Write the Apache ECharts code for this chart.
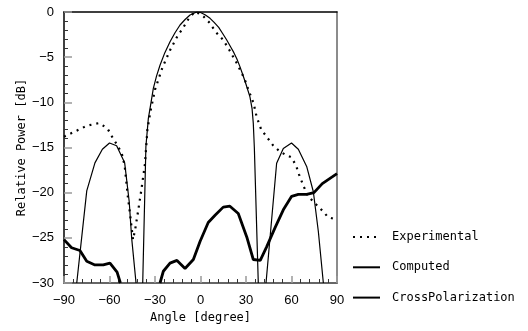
<!DOCTYPE html>
<html>
<head>
<meta charset="utf-8">
<script src="https://cdn.jsdelivr.net/npm/echarts@6/dist/echarts.min.js"></script>
<style>html,body{margin:0;padding:0;background:#fff}#c{width:528px;height:331px}</style>
</head>
<body>
<div id="c"></div>
<script>
// ---- data ----
const xTickValues = [-90, -60, -30, 0, 30, 60, 90];
const yTickValues = [-30, -25, -20, -15, -10, -5, 0];

const expAngle = [-90, -85, -80, -75, -70, -67, -64, -61, -58, -55, -52, -50, -48, -46.5, -44.5, -43, -41, -39, -36.6, -35, -33, -30, -25, -20, -15, -12, -8, -4, -1, 2, 6, 10, 15, 19, 24, 29, 32, 35, 37, 40, 44, 48, 52, 56, 60, 63, 65, 68, 71, 75, 78, 81, 84, 90];
const expPower = [-13.8, -13.4, -13.0, -12.6, -12.4, -12.3, -12.6, -13.0, -13.9, -14.7, -15.6, -17.0, -20.3, -22.3, -25.2, -24.0, -21.9, -19.7, -16.8, -13.0, -11.0, -8.6, -6.1, -4.2, -2.6, -1.9, -0.8, 0.0, -0.15, -0.5, -1.2, -2.2, -3.1, -4.2, -5.7, -7.4, -8.8, -10.1, -11.6, -13.0, -13.9, -14.8, -15.4, -15.8, -16.1, -17.0, -18.0, -19.3, -20.4, -21.1, -21.6, -22.1, -22.7, -23.0];

const compAngle1 = [-81.6, -75, -69.6, -64.7, -60, -55.3, -50, -47, -45.4, -42.5];
const compPower1 = [-30, -19.8, -16.7, -15.2, -14.5, -14.8, -16.7, -21.0, -25.0, -30];
const compAngle2 = [-38.1, -36, -34.4, -32.5, -31.1, -29, -26.7, -23.5, -20.1, -16.8, -13.5, -10, -6.9, -2.5, 0, 3, 6.3, 9, 12, 14.5, 17.3, 20, 22, 24, 26, 28, 30, 32.6, 34, 34.8, 35.5, 38.1];
const compPower2 = [-30, -14.9, -11.8, -9.9, -8.45, -7.1, -5.9, -4.5, -3.3, -2.3, -1.44, -0.8, -0.33, 0, -0.05, -0.3, -0.7, -1.15, -1.7, -2.35, -3.1, -3.9, -4.5, -5.2, -6.05, -7.0, -8.0, -9.4, -10.7, -12.3, -15.0, -30];
const compAngle3 = [43.2, 50.2, 54.6, 60, 64.5, 70, 74.4, 77.7, 81];
const compPower3 = [-30, -16.75, -15.1, -14.5, -15.2, -17.1, -19.9, -24.3, -30];

const crossAngle1 = [-90, -85, -79.5, -75, -69.6, -64.1, -59.7, -55, -52.8];
const crossPower1 = [-25.2, -26.1, -26.4, -27.6, -28.0, -28.0, -27.8, -28.8, -30];
const crossAngle2 = [-26.7, -24.5, -20.1, -15.5, -10.2, -4.7, -0.3, 5.1, 9.6, 15, 19.4, 24.9, 30.5, 34.8, 39.4, 43.6, 49.1, 54.6, 60.1, 64.5, 70, 74.8, 80.3, 90];
const crossPower2 = [-30, -28.7, -27.8, -27.5, -28.4, -27.4, -25.4, -23.3, -22.5, -21.6, -21.5, -22.3, -24.9, -27.4, -27.5, -26.0, -23.9, -21.9, -20.4, -20.2, -20.2, -20.0, -19.0, -17.9];

const zip = (a, b) => a.map((v, i) => [v, b[i]]);
const minus = v => String(v).replace('-', '\u2212');

const tickFont = { fontFamily: 'Liberation Sans, Arial, sans-serif', fontSize: 13, color: '#000' };
const monoFont = 'DejaVu Sans Mono, monospace';

const thin = { color: '#000', width: 1.2, type: 'solid' };
const thick = { color: '#000', width: 2.8, type: 'solid' };
const dotted = { color: '#000', width: 2.2, type: [2, 5], cap: 'butt' };

function lineSeries(name, data, style) {
  return { name, type: 'line', data, symbol: 'none', showSymbol: false, smooth: false,
           lineStyle: style, itemStyle: { color: '#000' }, clip: true, animation: false };
}

const chart = echarts.init(document.getElementById('c'), null, { renderer: 'canvas' });
chart.setOption({
  animation: false,
  backgroundColor: '#fff',
  grid: { left: 64, top: 12, width: 273, height: 271, containLabel: false },
  legend: {
    orient: 'vertical', left: 352, top: 231, padding: 0, itemWidth: 27, itemHeight: 14, itemGap: 18.3,
    itemStyle: { opacity: 0 },
    textStyle: { fontFamily: monoFont, fontSize: 12, color: '#000', padding: [0, 0, 0, 7] },
    data: ['Experimental', 'Computed', 'CrossPolarization']
  },
  xAxis: [{
    type: 'value', min: -90, max: 90, interval: 30,
    name: 'Angle [degree]', nameLocation: 'middle', nameGap: 28,
    nameTextStyle: { fontFamily: monoFont, fontSize: 12, color: '#000' },
    axisLine: { show: true, onZero: false, lineStyle: { color: '#666', width: 2 } },
    axisTick: { show: true, inside: true, length: 7, lineStyle: { color: '#999', width: 1.5 } },
    minorTick: { show: true, splitNumber: 5, length: 4, lineStyle: { color: '#333', width: 1 } },
    axisLabel: Object.assign({ margin: 11, formatter: minus, showMinLabel: true, showMaxLabel: true }, tickFont),
    splitLine: { show: false }
  }, {
    type: 'value', min: -90, max: 90, interval: 30, position: 'top',
    axisLine: { show: true, onZero: false, lineStyle: { color: '#000', width: 1.5 } },
    axisTick: { show: false }, axisLabel: { show: false }, splitLine: { show: false }
  }],
  yAxis: [{
    type: 'value', min: -30, max: 0, interval: 5,
    name: 'Relative Power [dB]', nameLocation: 'middle', nameGap: 36, nameMoveOverlap: false,
    nameTextStyle: { fontFamily: monoFont, fontSize: 12, color: '#000' },
    axisLine: { show: true, onZero: false, lineStyle: { color: '#000', width: 1.5 } },
    axisTick: { show: true, inside: true, length: 8, lineStyle: { color: '#999', width: 1.5 } },
    minorTick: { show: true, splitNumber: 5, length: 4, lineStyle: { color: '#333', width: 1 } },
    axisLabel: Object.assign({ margin: 10, formatter: minus, showMinLabel: true, showMaxLabel: true }, tickFont),
    splitLine: { show: false }
  }, {
    type: 'value', min: -30, max: 0, interval: 5, position: 'right',
    axisLine: { show: true, onZero: false, lineStyle: { color: '#666', width: 1.5 } },
    axisTick: { show: false }, axisLabel: { show: false }, splitLine: { show: false }
  }],
  series: [
    lineSeries('Experimental', zip(expAngle, expPower), dotted),
    lineSeries('Computed', zip(compAngle1, compPower1), thin),
    lineSeries('Computed', zip(compAngle2, compPower2), thin),
    lineSeries('Computed', zip(compAngle3, compPower3), thin),
    lineSeries('CrossPolarization', zip(crossAngle1, crossPower1), thick),
    lineSeries('CrossPolarization', zip(crossAngle2, crossPower2), thick)
  ]
});
</script>
</body>
</html>
